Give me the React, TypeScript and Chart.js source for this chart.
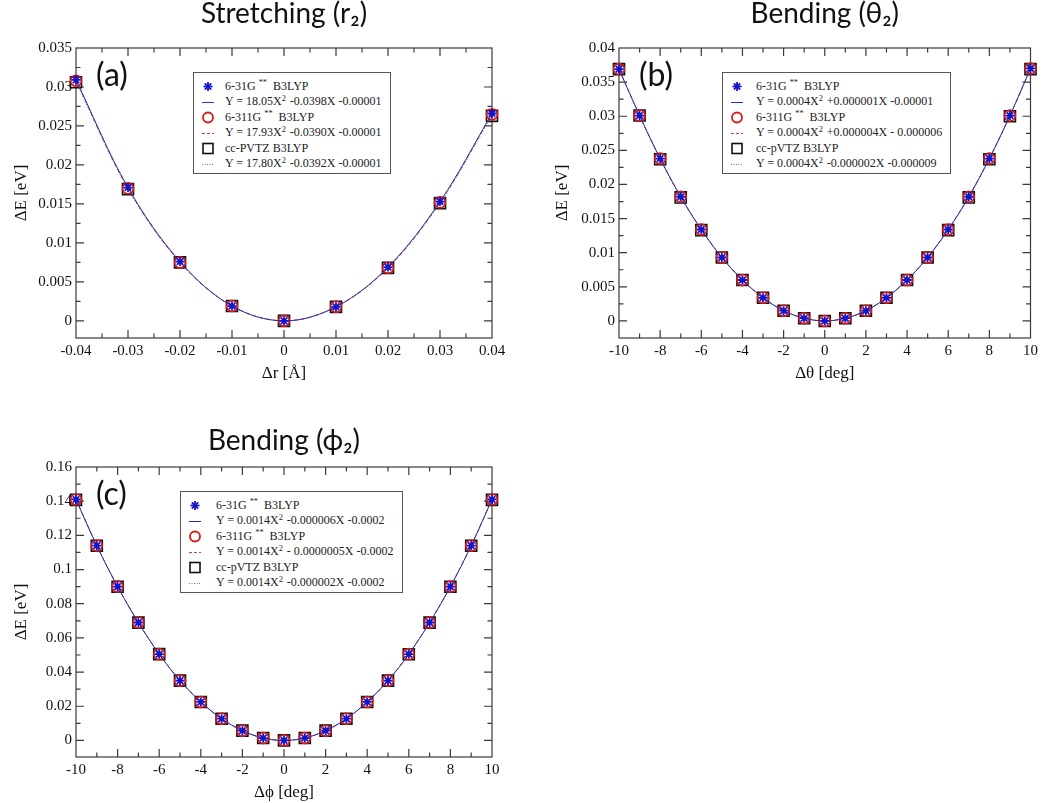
import React, { useEffect, useRef } from "react";
import { Chart, registerables } from "chart.js";

Chart.register(...registerables);

// ---------------- Panel (a): Stretching (r2) ----------------
const stretchX = [-0.04, -0.03, -0.02, -0.01, 0, 0.01, 0.02, 0.03, 0.04];
const stretch631G = [0.0309, 0.0171, 0.0076, 0.0019, 0.0, 0.0018, 0.0069, 0.0153, 0.0266];
const stretch6311G = [0.0308, 0.017, 0.0075, 0.0019, 0.0, 0.0018, 0.0068, 0.0152, 0.0265];
const stretchPVTZ = [0.0306, 0.0169, 0.0075, 0.0019, 0.0, 0.0018, 0.0068, 0.0151, 0.0263];
const stretchXTicks = [-0.04, -0.03, -0.02, -0.01, 0, 0.01, 0.02, 0.03, 0.04];
const stretchXLabels = ["-0.04", "-0.03", "-0.02", "-0.01", "0", "0.01", "0.02", "0.03", "0.04"];
const stretchYTicks = [0, 0.005, 0.01, 0.015, 0.02, 0.025, 0.03, 0.035];
const stretchYLabels = ["0", "0.005", "0.01", "0.015", "0.02", "0.025", "0.03", "0.035"];
const stretchNames = ["6-31G** B3LYP", "6-311G** B3LYP", "cc-PVTZ B3LYP"];
const stretchFits = [
  "Y = 18.05X^2 -0.0398X -0.00001",
  "Y = 17.93X^2 -0.0390X -0.00001",
  "Y = 17.80X^2 -0.0392X -0.00001",
];

// ---------------- Panel (b): Bending (theta2) ----------------
const thetaX = [-10, -9, -8, -7, -6, -5, -4, -3, -2, -1, 0, 1, 2, 3, 4, 5, 6, 7, 8, 9, 10];
const theta631G = [0.0369, 0.0301, 0.0238, 0.0182, 0.0134, 0.0093, 0.006, 0.0034, 0.0015, 0.0004, 0.0, 0.0004, 0.0015, 0.0034, 0.006, 0.0093, 0.0134, 0.0182, 0.0238, 0.0301, 0.037];
const theta6311G = [0.0369, 0.0301, 0.0238, 0.0182, 0.0134, 0.0093, 0.006, 0.0034, 0.0015, 0.0004, 0.0, 0.0004, 0.0015, 0.0034, 0.006, 0.0093, 0.0134, 0.0182, 0.0238, 0.0301, 0.037];
const thetaPVTZ = [0.0369, 0.0301, 0.0237, 0.0181, 0.0133, 0.0093, 0.006, 0.0034, 0.0015, 0.0004, 0.0, 0.0004, 0.0015, 0.0034, 0.006, 0.0093, 0.0133, 0.0181, 0.0237, 0.03, 0.0369];
const thetaXTicks = [-10, -8, -6, -4, -2, 0, 2, 4, 6, 8, 10];
const thetaXLabels = ["-10", "-8", "-6", "-4", "-2", "0", "2", "4", "6", "8", "10"];
const thetaYTicks = [0, 0.005, 0.01, 0.015, 0.02, 0.025, 0.03, 0.035, 0.04];
const thetaYLabels = ["0", "0.005", "0.01", "0.015", "0.02", "0.025", "0.03", "0.035", "0.04"];
const thetaNames = ["6-31G** B3LYP", "6-311G** B3LYP", "cc-pVTZ B3LYP"];
const thetaFits = [
  "Y = 0.0004X^2 +0.000001X -0.00001",
  "Y = 0.0004X^2 +0.000004X - 0.000006",
  "Y = 0.0004X^2 -0.000002X -0.000009",
];

// ---------------- Panel (c): Bending (phi2) ----------------
const phiX = [-10, -9, -8, -7, -6, -5, -4, -3, -2, -1, 0, 1, 2, 3, 4, 5, 6, 7, 8, 9, 10];
const phi631G = [0.141, 0.114, 0.09, 0.069, 0.0505, 0.035, 0.0225, 0.0127, 0.0057, 0.0014, 0.0, 0.0014, 0.0057, 0.0127, 0.0225, 0.035, 0.0505, 0.069, 0.09, 0.114, 0.141];
const phi6311G = [0.141, 0.114, 0.09, 0.069, 0.0505, 0.035, 0.0225, 0.0127, 0.0057, 0.0014, 0.0, 0.0014, 0.0057, 0.0127, 0.0225, 0.035, 0.0505, 0.069, 0.09, 0.114, 0.141];
const phiPVTZ = [0.1408, 0.1139, 0.0899, 0.0689, 0.0505, 0.035, 0.0225, 0.0127, 0.0057, 0.0014, 0.0, 0.0014, 0.0057, 0.0127, 0.0225, 0.035, 0.0504, 0.0689, 0.0899, 0.1139, 0.1408];
const phiXTicks = [-10, -8, -6, -4, -2, 0, 2, 4, 6, 8, 10];
const phiXLabels = ["-10", "-8", "-6", "-4", "-2", "0", "2", "4", "6", "8", "10"];
const phiYTicks = [0, 0.02, 0.04, 0.06, 0.08, 0.1, 0.12, 0.14, 0.16];
const phiYLabels = ["0", "0.02", "0.04", "0.06", "0.08", "0.1", "0.12", "0.14", "0.16"];
const phiNames = ["6-31G** B3LYP", "6-311G** B3LYP", "cc-pVTZ B3LYP"];
const phiFits = [
  "Y = 0.0014X^2 -0.000006X -0.0002",
  "Y = 0.0014X^2 - 0.0000005X -0.0002",
  "Y = 0.0014X^2 -0.000002X -0.0002",
];

// ---------------- Styles ----------------
const SERIF = "'Liberation Serif', 'Times New Roman', serif";
const SANS = "Lato, 'Open Sans', 'Noto Sans', sans-serif";
const seriesStyle = [
  { marker: "star", markerColor: "#1414c8", radius: 4.5, lineColor: "#2a2ab4", dash: [] as number[], legendDash: "" },
  { marker: "circle", markerColor: "#d81818", radius: 5.5, lineColor: "#d83838", dash: [4, 3], legendDash: "3 2" },
  { marker: "rect", markerColor: "#111111", radius: 7.8, lineColor: "#777777", dash: [1, 2], legendDash: "1 1.5" },
];

type PanelCfg = {
  key: string;
  left: number; top: number; width: number; height: number;
  area: { left: number; top: number; right: number; bottom: number };
  titleY: number; xTitleY: number; yTitleX: number;
  title: string; xTitle: string; yTitle: string;
  x: number[]; series: number[][];
  xMin: number; xMax: number; yMin: number; yMax: number;
  xTicks: number[]; xLabels: string[]; yTicks: number[]; yLabels: string[];
  names: string[]; fits: string[];
  legendPos: { left: number; top: number; textGap: number };
  tag: string; tagPos: { left: number; top: number };
};

const panels: PanelCfg[] = [
  {
    key: "a", left: 0, top: 0, width: 521, height: 400,
    area: { left: 76, top: 48, right: 492, bottom: 338 },
    titleY: 14, xTitleY: 374, yTitleX: 22,
    title: "Stretching (r\u2082)", xTitle: "\u0394r [\u00c5]", yTitle: "\u0394E [eV]",
    x: stretchX, series: [stretch631G, stretch6311G, stretchPVTZ],
    xMin: -0.04, xMax: 0.04, yMin: -0.0022, yMax: 0.035,
    xTicks: stretchXTicks, xLabels: stretchXLabels, yTicks: stretchYTicks, yLabels: stretchYLabels,
    names: stretchNames, fits: stretchFits,
    legendPos: { left: 193, top: 72, textGap: 3 },
    tag: "(a)", tagPos: { left: 96, top: 58 },
  },
  {
    key: "b", left: 541, top: 0, width: 501, height: 400,
    area: { left: 619, top: 48, right: 1033, bottom: 338 },
    titleY: 14, xTitleY: 374, yTitleX: 563,
    title: "Bending (\u03b8\u2082)", xTitle: "\u0394\u03b8 [deg]", yTitle: "\u0394E [eV]",
    x: thetaX, series: [theta631G, theta6311G, thetaPVTZ],
    xMin: -10, xMax: 10, yMin: -0.0025, yMax: 0.04,
    xTicks: thetaXTicks, xLabels: thetaXLabels, yTicks: thetaYTicks, yLabels: thetaYLabels,
    names: thetaNames, fits: thetaFits,
    legendPos: { left: 722, top: 72, textGap: 5 },
    tag: "(b)", tagPos: { left: 639, top: 58 },
  },
  {
    key: "c", left: 0, top: 420, width: 521, height: 395,
    area: { left: 76, top: 467, right: 492, bottom: 757 },
    titleY: 441, xTitleY: 793, yTitleX: 22,
    title: "Bending (\u03d5\u2082)", xTitle: "\u0394\u03d5 [deg]", yTitle: "\u0394E [eV]",
    x: phiX, series: [phi631G, phi6311G, phiPVTZ],
    xMin: -10, xMax: 10, yMin: -0.0097, yMax: 0.16,
    xTicks: phiXTicks, xLabels: phiXLabels, yTicks: phiYTicks, yLabels: phiYLabels,
    names: phiNames, fits: phiFits,
    legendPos: { left: 180, top: 491, textGap: 7 },
    tag: "(c)", tagPos: { left: 96, top: 477 },
  },
];

// Frame with inward major/minor ticks on all four sides (xmgrace style)
const frameTicks = {
  id: "frameTicks",
  beforeDatasetsDraw(chart: any) {
    const { ctx, chartArea: a, scales } = chart;
    const xs = scales.x;
    const ys = scales.y;
    ctx.save();
    ctx.strokeStyle = "#3a3a3a";
    ctx.lineWidth = 1.2;
    ctx.strokeRect(a.left, a.top, a.right - a.left, a.bottom - a.top);
    const MAJ = 8;
    const MIN = 4.5;
    ctx.beginPath();
    const drawX = (v: number, len: number) => {
      const p = xs.getPixelForValue(v);
      if (p < a.left + 0.5 || p > a.right - 0.5) return;
      ctx.moveTo(p, a.bottom);
      ctx.lineTo(p, a.bottom - len);
      ctx.moveTo(p, a.top);
      ctx.lineTo(p, a.top + len);
    };
    const drawY = (v: number, len: number) => {
      const p = ys.getPixelForValue(v);
      if (p < a.top + 0.5 || p > a.bottom - 0.5) return;
      ctx.moveTo(a.left, p);
      ctx.lineTo(a.left + len, p);
      ctx.moveTo(a.right, p);
      ctx.lineTo(a.right - len, p);
    };
    const xt = xs.ticks.map((t: any) => t.value);
    const yt = ys.ticks.map((t: any) => t.value);
    xt.forEach((v: number) => drawX(v, MAJ));
    for (let i = 0; i < xt.length - 1; i++) drawX((xt[i] + xt[i + 1]) / 2, MIN);
    yt.forEach((v: number) => drawY(v, MAJ));
    for (let i = 0; i < yt.length - 1; i++) drawY((yt[i] + yt[i + 1]) / 2, MIN);
    ctx.stroke();
    ctx.restore();
  },
};

function Panel({ cfg }: { cfg: PanelCfg }) {
  const ref = useRef<HTMLCanvasElement>(null);
  useEffect(() => {
    const c = cfg;
    const canvasBottom = c.top + c.height;
    const tickFont = { family: SERIF, size: 15 };
    const axisFont = { family: SERIF, size: 17, lineHeight: 1.2 };
    const TS = 28;
    const chart = new Chart(ref.current as HTMLCanvasElement, {
      type: "line",
      data: {
        datasets: c.series.map((vals, i) => ({
          label: c.names[i],
          data: c.x.map((x, j) => ({ x, y: vals[j] })),
          borderColor: seriesStyle[i].lineColor,
          borderWidth: 1,
          borderDash: seriesStyle[i].dash,
          tension: 0.35,
          pointStyle: seriesStyle[i].marker as any,
          pointRadius: seriesStyle[i].radius,
          pointBorderColor: seriesStyle[i].markerColor,
          pointBackgroundColor: "rgba(0,0,0,0)",
          pointBorderWidth: i === 0 ? 1.8 : 1.6,
          clip: false as any,
          order: i,
        })),
      },
      options: {
        responsive: false,
        animation: false,
        layout: {
          padding: { left: 0, top: 0, bottom: 0, right: c.left + c.width - c.area.right },
        },
        plugins: {
          legend: { display: false },
          tooltip: { enabled: false },
          title: {
            display: true,
            text: c.title,
            fullSize: false,
            color: "#111",
            font: { family: SANS, size: TS, weight: "normal", lineHeight: 1 },
            padding: { top: c.titleY - c.top - TS / 2, bottom: c.area.top - c.titleY - TS / 2 },
          },
        },
        scales: {
          x: {
            type: "linear",
            min: c.xMin,
            max: c.xMax,
            afterBuildTicks: (s: any) => {
              s.ticks = c.xTicks.map((v) => ({ value: v }));
            },
            afterFit: (s: any) => {
              s.height = canvasBottom - c.area.bottom;
            },
            grid: { display: false, drawTicks: false },
            border: { display: false },
            ticks: {
              padding: 4,
              color: "#111",
              font: tickFont,
              autoSkip: false,
              maxRotation: 0,
              callback: (_v: any, i: number) => c.xLabels[i],
            },
            title: {
              display: true,
              text: c.xTitle,
              color: "#111",
              font: axisFont,
              padding: { top: 0, bottom: canvasBottom - c.xTitleY - 10.2 },
            },
          },
          y: {
            type: "linear",
            min: c.yMin,
            max: c.yMax,
            afterBuildTicks: (s: any) => {
              s.ticks = c.yTicks.map((v) => ({ value: v }));
            },
            afterFit: (s: any) => {
              s.width = c.area.left - c.left;
            },
            grid: { display: false, drawTicks: false },
            border: { display: false },
            ticks: {
              padding: 4,
              color: "#111",
              font: tickFont,
              autoSkip: false,
              callback: (_v: any, i: number) => c.yLabels[i],
            },
            title: {
              display: true,
              text: c.yTitle,
              color: "#111",
              font: axisFont,
              padding: { top: c.yTitleX - c.left - 10.2, bottom: 0 },
            },
          },
        },
      } as any,
      plugins: [frameTicks],
    });
    return () => chart.destroy();
  }, [cfg]);
  return (
    <canvas
      ref={ref}
      width={cfg.width}
      height={cfg.height}
      style={{ position: "absolute", left: cfg.left, top: cfg.top, width: cfg.width, height: cfg.height }}
    />
  );
}

function RichText({ text }: { text: string }) {
  const out: React.ReactNode[] = [];
  const re = /(\*\*|\^2)/g;
  let last = 0;
  let m: RegExpExecArray | null;
  while ((m = re.exec(text))) {
    if (m.index > last) out.push(text.slice(last, m.index));
    const isStar = m[0] === "**";
    out.push(
      <span
        key={m.index}
        style={{
          fontSize: "0.7em",
          position: "relative",
          top: "-0.5em",
          marginLeft: isStar ? 3 : 0,
          marginRight: isStar ? 3 : 1,
        }}
      >
        {isStar ? "**" : "2"}
      </span>
    );
    last = m.index + m[0].length;
  }
  if (last < text.length) out.push(text.slice(last));
  return <>{out}</>;
}

function Symbol({ kind, color, dash }: { kind: string; color: string; dash?: string }) {
  const cx = 14;
  const cy = 7.5;
  let g: React.ReactNode = null;
  if (kind === "star") {
    const r = 4.5;
    const d = r * Math.SQRT1_2;
    g = (
      <g stroke={color} strokeWidth={1.8}>
        <line x1={cx - r} y1={cy} x2={cx + r} y2={cy} />
        <line x1={cx} y1={cy - r} x2={cx} y2={cy + r} />
        <line x1={cx - d} y1={cy - d} x2={cx + d} y2={cy + d} />
        <line x1={cx - d} y1={cy + d} x2={cx + d} y2={cy - d} />
      </g>
    );
  } else if (kind === "circle") {
    g = <circle cx={cx} cy={cy} r={5} fill="none" stroke={color} strokeWidth={1.8} />;
  } else if (kind === "rect") {
    g = <rect x={cx - 5} y={cy - 5} width={10} height={10} fill="none" stroke={color} strokeWidth={1.6} />;
  } else {
    g = <line x1={cx - 6} y1={cy} x2={cx + 6} y2={cy} stroke={color} strokeWidth={1} strokeDasharray={dash || undefined} />;
  }
  return (
    <svg width={28} height={15} style={{ display: "block", flex: "0 0 28px" }}>
      {g}
    </svg>
  );
}

function Legend({ cfg }: { cfg: PanelCfg }) {
  const rows: React.ReactNode[] = [];
  const gap = cfg.legendPos.textGap;
  cfg.names.forEach((name, i) => {
    const st = seriesStyle[i];
    rows.push(
      <div key={"n" + i} style={{ display: "flex", alignItems: "center", height: 15.5 }}>
        <Symbol kind={st.marker} color={st.markerColor} />
        <span style={{ paddingLeft: gap, whiteSpace: "nowrap" }}>
          <RichText text={name} />
        </span>
      </div>
    );
    rows.push(
      <div key={"f" + i} style={{ display: "flex", alignItems: "center", height: 15.5 }}>
        <Symbol kind="line" color={st.lineColor} dash={st.legendDash} />
        <span style={{ paddingLeft: gap, whiteSpace: "nowrap" }}>
          <RichText text={cfg.fits[i]} />
        </span>
      </div>
    );
  });
  return (
    <div
      style={{
        position: "absolute",
        left: cfg.legendPos.left,
        top: cfg.legendPos.top,
        border: "1.2px solid #555",
        background: "#fff",
        padding: "6px 8px 1px 0",
        fontFamily: SERIF,
        fontSize: 12,
        lineHeight: "15.5px",
        color: "#222",
      }}
    >
      {rows}
    </div>
  );
}

export default function App() {
  return (
    <div
      style={{
        position: "absolute",
        left: 0,
        top: 0,
        width: 1042,
        height: 803,
        overflow: "hidden",
        background: "#fff",
      }}
    >
      {panels.map((p) => (
        <Panel key={p.key} cfg={p} />
      ))}
      {panels.map((p) => (
        <Legend key={"l" + p.key} cfg={p} />
      ))}
      {panels.map((p) => (
        <div
          key={"t" + p.key}
          style={{
            position: "absolute",
            left: p.tagPos.left,
            top: p.tagPos.top,
            fontFamily: SANS,
            fontSize: 32,
            lineHeight: "32px",
            color: "#111",
          }}
        >
          {p.tag}
        </div>
      ))}
    </div>
  );
}
